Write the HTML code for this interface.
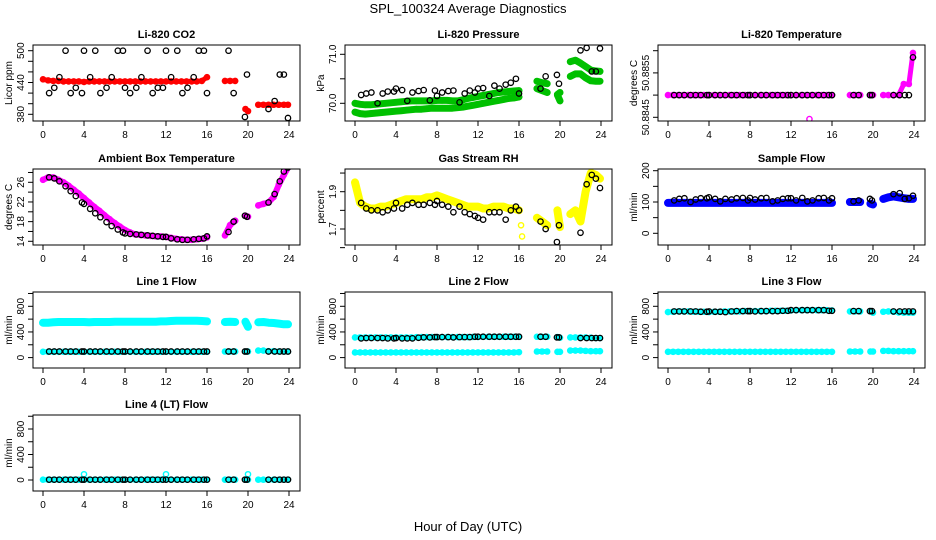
<!DOCTYPE html>
<html><head><meta charset="utf-8"><style>
html,body{margin:0;padding:0;background:#fff;}
svg{display:block;font-family:"Liberation Sans",Arial,sans-serif;}
</style></head><body>
<svg id="c" width="936" height="540" xmlns="http://www.w3.org/2000/svg">
<text x="468" y="13" text-anchor="middle" font-size="13">SPL_100324  Average Diagnostics</text>
<text x="468" y="531" text-anchor="middle" font-size="13">Hour of Day (UTC)</text>
</svg>
<script>
// colored-series hours
const H=[0,0.5,1,1.5,2,2.5,3,3.5,4,4.5,5,5.5,6,6.5,7,7.5,8,8.5,9,9.5,10,10.5,11,11.5,12,12.5,13,13.5,14,14.5,15,15.5,16,17.75,18.25,18.75,19.75,20,21,21.5,22,22.5,23,23.5,23.9];
// black-point hours
const BH=[0.6,1.1,1.6,2.2,2.7,3.2,3.8,4.0,4.6,5.1,5.6,6.2,6.7,7.3,7.8,8.0,8.5,9.1,9.6,10.2,10.7,11.2,11.7,12.0,12.5,13.1,13.6,14.1,14.7,15.2,15.7,16.0,18.1,18.6,19.7,19.9,22.0,22.6,23.1,23.5,23.9];
const xTicks=[0,4,8,12,16,20,24];

const co2Red=[446,444,443,443,442,442,442,442,441,442,442,442,442,442,442,442,442,442,442,442,442,442,442,442,442,442,442,442,442,442,442,443,450,443,443,443,390,386,398,398,398,398,398,398,398];
const co2Black=[420,430,450,500,420,430,420,500,450,500,420,430,450,500,500,430,420,430,450,500,420,430,430,500,450,500,420,430,450,500,500,420,500,420,375,455,390,405,455,455,373];
const presUpper=[70.0,69.98,69.97,69.97,69.98,69.99,70.0,70.01,70.02,70.03,70.04,70.05,70.05,70.05,70.05,70.05,70.06,70.06,70.06,70.05,70.05,70.07,70.1,70.12,70.14,70.16,70.18,70.2,70.22,70.23,70.24,70.25,70.26,70.45,70.42,70.4,70.17,70.05,70.85,70.88,70.82,70.75,70.68,70.66,70.65];
const presLower=[69.82,69.79,69.78,69.79,69.8,69.81,69.82,69.83,69.84,69.85,69.86,69.87,69.88,69.88,69.89,69.9,69.9,69.9,69.9,69.9,69.91,69.92,69.94,69.96,69.98,70.0,70.02,70.04,70.06,70.08,70.1,70.11,70.13,70.3,70.26,70.22,70.18,70.22,70.55,70.6,70.6,70.52,70.46,70.45,70.45];
const presBlack=[70.17,70.2,70.22,70.0,70.2,70.24,70.24,70.3,70.27,70.05,70.22,70.25,70.27,70.06,70.26,70.15,70.22,70.25,70.26,70.02,70.2,70.26,70.22,70.3,70.31,70.15,70.36,70.3,70.38,70.42,70.5,70.2,70.3,70.55,70.58,70.4,71.08,71.13,70.65,70.65,71.12];
const tempMag=[50.885,50.885,50.885,50.885,50.885,50.885,50.885,50.885,50.885,50.885,50.885,50.885,50.885,50.885,50.885,50.885,50.885,50.885,50.885,50.885,50.885,50.885,50.885,50.885,50.885,50.885,50.885,50.885,50.885,50.885,50.885,50.885,50.885,50.885,50.885,50.885,50.885,50.885,50.885,50.885,50.885,50.885,50.88525,50.88525,50.88595];
const tempBlack=[50.885,50.885,50.885,50.885,50.885,50.885,50.885,50.885,50.885,50.885,50.885,50.885,50.885,50.885,50.885,50.885,50.885,50.885,50.885,50.885,50.885,50.885,50.885,50.885,50.885,50.885,50.885,50.885,50.885,50.885,50.885,50.885,50.885,50.885,50.885,50.885,50.885,50.885,50.885,50.885,50.88585];
const ambMag=[26.5,27,27,26.5,26,25.3,24.5,23.7,22.8,21.9,21,20.2,19.3,18.5,17.7,17,16.3,15.8,15.4,15.3,15.2,15.1,15.0,15.0,14.9,14.7,14.5,14.4,14.3,14.3,14.4,14.5,14.8,15.2,17.3,18.2,19.2,19.0,21.3,21.6,21.9,23.0,25.5,27.5,29.0];
const ambBlack=[27,26.8,26.2,25.2,24.2,23.2,21.9,21.6,20.6,19.7,18.9,17.9,17.1,16.4,15.8,15.6,15.5,15.4,15.3,15.2,15.1,15.0,14.9,14.9,14.6,14.4,14.3,14.3,14.4,14.5,14.6,15.0,15.9,18.0,19.2,19.0,21.9,23.6,26.2,28.2,29.0];
const rhYel=[1.95,1.84,1.82,1.81,1.81,1.82,1.82,1.83,1.84,1.85,1.86,1.86,1.86,1.86,1.87,1.87,1.88,1.87,1.86,1.85,1.84,1.83,1.82,1.82,1.82,1.81,1.81,1.82,1.82,1.82,1.81,1.81,1.80,1.76,1.74,1.72,1.80,1.71,1.78,1.80,1.74,1.90,2.0,1.99,1.97];
const rhBlack=[1.84,1.81,1.8,1.8,1.79,1.8,1.81,1.84,1.81,1.83,1.84,1.83,1.83,1.84,1.83,1.85,1.83,1.82,1.79,1.82,1.79,1.78,1.77,1.76,1.75,1.79,1.79,1.79,1.75,1.8,1.82,1.8,1.74,1.70,1.63,1.72,1.68,1.94,1.99,1.97,1.92];
const sfBlue=[97,97,97,97,97,97,97,97,97,97,97,97,97,97,97,97,97,97,97,97,97,97,97,97,97,97,97,97,97,97,97,97,97,100,100,100,95,92,110,115,118,115,112,110,110];
const sfBlack=[105,110,112,100,108,112,112,115,110,102,110,108,112,113,105,113,108,112,113,102,105,110,112,112,105,113,102,105,112,113,105,112,102,105,110,105,125,128,110,112,120];
const l1Upper=[545,545,550,555,555,555,555,555,555,550,555,555,555,555,560,560,560,560,560,560,560,560,560,565,565,570,575,575,575,575,575,570,565,555,560,555,560,480,550,555,545,540,530,520,520];
const l1Lower=[90,90,90,90,90,90,90,90,90,90,90,90,90,90,90,90,90,90,90,90,90,90,90,90,90,90,90,90,90,90,90,90,90,95,95,95,95,95,110,110,100,100,95,95,95];
const l1Black=[95,95,95,95,95,95,95,95,95,95,95,95,95,95,95,95,95,95,95,95,95,95,95,95,95,95,95,95,95,95,95,95,95,95,95,95,95,95,95,95,95];
const l2Upper=[315,315,315,315,315,315,315,315,315,315,315,315,318,320,320,320,320,320,320,320,320,320,320,322,322,325,325,325,325,325,325,325,325,325,325,325,320,310,315,315,315,315,310,305,305];
const l2Lower=[80,80,80,80,80,80,80,80,80,80,80,80,80,80,80,80,80,80,80,80,80,80,80,80,80,80,80,80,80,80,80,80,85,95,95,95,90,90,110,110,110,105,100,100,100];
const l2Black=[300,305,305,305,305,300,300,305,300,300,300,310,315,315,320,320,320,320,315,320,320,320,325,325,325,325,325,325,325,325,325,325,325,325,315,315,305,305,305,305,305];
const l3Upper=[710,715,720,720,720,715,715,715,710,715,715,720,720,720,720,725,725,725,725,725,730,730,730,730,735,740,740,740,740,740,740,740,735,720,720,720,725,700,715,720,715,705,700,700,700];
const l3Lower=[90,90,90,90,90,90,90,90,90,90,90,90,90,90,90,90,90,90,90,90,90,90,90,90,90,90,90,90,90,90,90,90,90,95,95,95,95,95,105,105,100,100,100,100,100];
const l3Black=[720,720,720,720,720,715,715,720,715,715,710,720,725,725,725,725,720,725,725,725,725,730,730,740,740,740,740,740,740,740,730,730,725,725,725,725,720,720,720,720,720];
const l4Cyan=[5,5,5,5,5,5,5,5,5,5,5,5,5,5,5,5,5,5,5,5,5,5,5,5,5,5,5,5,5,5,5,5,5,5,5,5,5,5,5,5,5,5,5,5,5];
const l4Black=[5,5,5,5,5,5,5,5,5,5,5,5,5,5,5,5,5,5,5,5,5,5,5,5,5,5,5,5,5,5,5,5,5,5,5,5,5,5,5,5,5];
// isolated outlier points: hours and values
const l4OutH=[4,12,20], l4OutV=[90,90,90];
const tempOutH=[13.8], tempOutV=[50.88446];
const rhOutH=[16.2,16.3], rhOutV=[1.72,1.66];

const NS="http://www.w3.org/2000/svg";
const svg=document.getElementById('c');
function mk(tag,attrs,parent){const e=document.createElementNS(NS,tag);for(const k in attrs)e.setAttribute(k,attrs[k]);(parent||svg).appendChild(e);return e;}

const colLeft=[33,345,658], rowTop=[45,169,292,415], W=267, HT=76;

function panel(p){
  const L=colLeft[p.col], T=rowTop[p.row];
  const g=mk('g',{});
  
  
  const xs=h=>L+10+h*(246/24);
  const [v1,o1,v2,o2]=p.cal;
  const ys=v=>T+o1+(v-v1)*(o2-o1)/(v2-v1);
  const t=mk('text',{x:L+W/2,y:T-7,'text-anchor':'middle','font-size':11,'font-weight':'bold'},g);
  t.textContent=p.title;
  
  
  const clip='cl'+p.name;
  const cp=mk('clipPath',{id:clip},g);mk('rect',{x:L,y:T,width:W,height:HT},cp);
  const data=mk('g',{'clip-path':'url(#'+clip+')'},g);
  (p.series||[]).forEach(s=>{
    const sg=mk('g',{},data);
    
    
    let seg=[];
    const flush=()=>{if(seg.length>1){const pl=mk('polyline',{points:seg.join(' '),fill:'none',stroke:s.color,'stroke-width':s.w||6,'stroke-linecap':'round','stroke-linejoin':'round'},sg);
      
      }
      seg=[];};
    H.forEach((h,i)=>{ if(i>0 && h-H[i-1]>0.6) flush(); seg.push(xs(h).toFixed(1)+','+ys(s.vals[i]).toFixed(1));});
    flush();
    H.forEach((h,i)=>{const c=mk('circle',{cx:xs(h),cy:ys(s.vals[i]),r:2.6,fill:'none',stroke:s.color,'stroke-width':1.4},sg);
      
      });
  });
  (p.out||[]).forEach(o=>{o.h.forEach((h,i)=>{const c=mk('circle',{cx:xs(h),cy:ys(o.v[i]),r:2.6,fill:'none',stroke:o.color,'stroke-width':1.4},data);
      
      });});
  if(p.black){BH.forEach((h,i)=>{const c=mk('circle',{cx:xs(h),cy:ys(p.black[i]),r:2.7,fill:'none',stroke:'#000','stroke-width':1.3},data);
      
      });}
  const box=mk('rect',{x:L,y:T,width:W,height:HT,fill:'none',stroke:'#000','stroke-width':1},g);
  
  
  xTicks.forEach(v=>{const x=xs(v);mk('line',{x1:x,x2:x,y1:T+HT,y2:T+HT+5,stroke:'#000'},g);
    const tx=mk('text',{x:x,y:T+HT+17,'text-anchor':'middle','font-size':10},g);tx.textContent=v;
    
    });
  p.yTicks.forEach((v,i)=>{const y=ys(v);mk('line',{x1:L,x2:L-5,y1:y,y2:y,stroke:'#000'},g);
    if(p.yLabels[i]!==''){const tx=mk('text',{x:0,y:0,'text-anchor':'middle','font-size':10,transform:`translate(${L-9},${y}) rotate(-90)`},g);tx.textContent=p.yLabels[i];
    
    }});
  const yl=mk('text',{x:0,y:0,'text-anchor':'middle','font-size':10,transform:`translate(${L-21},${T+HT/2}) rotate(-90)`},g);
  yl.textContent=p.ylab;
  
  
}
const flowTicks=[0,200,400,600,800,1000], flowLabels=['0','','400','','800',''];
panel({name:'co2-panel',title:'Li-820 CO2',col:0,row:0,ylab:'Licor ppm',cal:[500,5.7,380,69.3],yTicks:[380,400,420,440,460,480,500],yLabels:['380','','','440','','','500'],series:[{id:'co2',vals:co2Red,color:'#ff0000',w:5}],black:co2Black});
panel({name:'pressure-panel',title:'Li-820 Pressure',col:1,row:0,ylab:'kPa',cal:[71,9.3,70,58.3],yTicks:[70,70.5,71],yLabels:['70.0','','71.0'],series:[{id:'pressure-upper',vals:presUpper,color:'#00c000',w:7},{id:'pressure-lower',vals:presLower,color:'#00c000',w:7}],black:presBlack});
panel({name:'temperature-panel',title:'Li-820 Temperature',col:2,row:0,ylab:'degrees C',cal:[50.886,5.7,50.8845,72.3],yTicks:[50.8845,50.885,50.8855,50.886],yLabels:['50.8845','','50.8855',''],series:[{id:'temperature',vals:tempMag,color:'#ff00ff',w:5}],out:[{h:tempOutH,v:tempOutV,color:'#ff00ff'}],black:tempBlack});
panel({name:'ambient-panel',title:'Ambient Box Temperature',col:0,row:1,ylab:'degrees C',cal:[26,13.3,14,72.3],yTicks:[14,16,18,20,22,24,26,28],yLabels:['14','','18','','22','','26',''],series:[{id:'ambient',vals:ambMag,color:'#ff00ff',w:6}],black:ambBlack});
panel({name:'rh-panel',title:'Gas Stream RH',col:1,row:1,ylab:'percent',cal:[1.9,22.7,1.7,60],yTicks:[1.6,1.7,1.8,1.9,2.0],yLabels:['','1.7','','1.9',''],series:[{id:'rh',vals:rhYel,color:'#ffff00',w:8}],out:[{h:rhOutH,v:rhOutV,color:'#ffff00'}],black:rhBlack});
panel({name:'sample-flow-panel',title:'Sample Flow',col:2,row:1,ylab:'ml/min',cal:[200,1.7,0,64.3],yTicks:[0,50,100,150,200],yLabels:['0','','100','','200'],series:[{id:'sample-flow',vals:sfBlue,color:'#0000ff',w:8}],black:sfBlack});
panel({name:'line1-panel',title:'Line 1 Flow',col:0,row:2,ylab:'ml/min',cal:[0,65.6,800,14.3],yTicks:flowTicks,yLabels:flowLabels,series:[{id:'line1-upper',vals:l1Upper,color:'#00ffff',w:8},{id:'line1-lower',vals:l1Lower,color:'#00ffff',w:5}],black:l1Black});
panel({name:'line2-panel',title:'Line 2 Flow',col:1,row:2,ylab:'ml/min',cal:[0,65.6,800,14.3],yTicks:flowTicks,yLabels:flowLabels,series:[{id:'line2-upper',vals:l2Upper,color:'#00ffff',w:5},{id:'line2-lower',vals:l2Lower,color:'#00ffff',w:5}],black:l2Black});
panel({name:'line3-panel',title:'Line 3 Flow',col:2,row:2,ylab:'ml/min',cal:[0,65.6,800,14.3],yTicks:flowTicks,yLabels:flowLabels,series:[{id:'line3-upper',vals:l3Upper,color:'#00ffff',w:5},{id:'line3-lower',vals:l3Lower,color:'#00ffff',w:5}],black:l3Black});
panel({name:'line4-panel',title:'Line 4 (LT) Flow',col:0,row:3,ylab:'ml/min',cal:[0,65,800,14],yTicks:flowTicks,yLabels:flowLabels,series:[{id:'line4',vals:l4Cyan,color:'#00ffff',w:5}],out:[{h:l4OutH,v:l4OutV,color:'#00ffff'}],black:l4Black});
</script>
</body></html>
